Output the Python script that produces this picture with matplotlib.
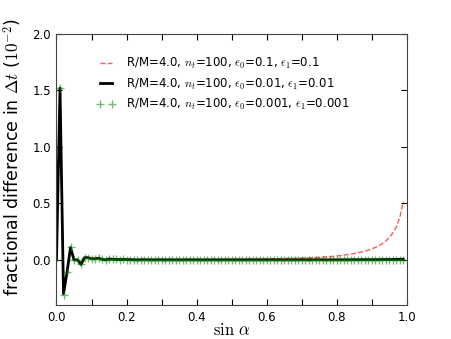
import numpy as np
import matplotlib
matplotlib.use("Agg")
import matplotlib.pyplot as plt

plt.rcParams['mathtext.fontset'] = 'cm'
plt.rcParams['xtick.direction'] = 'in'
plt.rcParams['ytick.direction'] = 'in'

# sin(alpha) sample positions
sin_a = np.arange(100) / 100.0

# eps0 = eps1 = 0.01
frac_01 = [0.0, 1.52, -0.30, -0.11, 0.11, 0.0, 0.0, -0.04, 0.02, 0.02,
           0.01, 0.01, 0.015, 0.005, 0.0, 0.008, 0.005, 0.004, 0.003, 0.004,
           0.003, 0.002, 0.001, 0.0, 0.001, 0.002, 0.001, 0.001, 0.0, 0.001,
           0.001, 0.0, 0.001, 0.001, 0.0, 0.001, 0.0, 0.001, 0.001, 0.0,
           0.001, 0.0, 0.0, 0.001, 0.0, 0.001, 0.0, 0.0, 0.001, 0.0,
           0.001, 0.0, 0.001, 0.0, 0.0, 0.001, 0.0, 0.001, 0.0, 0.001,
           0.0, 0.001, 0.001, 0.0, 0.001, 0.0, 0.001, 0.001, 0.0, 0.001,
           0.001, 0.001, 0.0, 0.001, 0.001, 0.001, 0.001, 0.0, 0.001, 0.001,
           0.001, 0.001, 0.001, 0.001, 0.001, 0.002, 0.001, 0.002, 0.002, 0.002,
           0.002, 0.002, 0.002, 0.003, 0.003, 0.003, 0.004, 0.004, 0.005, 0.006]

# eps0 = eps1 = 0.1
frac_1 = [0.0, 1.52, -0.30, -0.11, 0.11, 0.0, 0.0, -0.04, 0.02, 0.02,
          0.01, 0.01, 0.015, 0.005, 0.0, 0.008, 0.005, 0.004, 0.003, 0.004,
          0.003, 0.002, 0.001, 0.0, 0.001, 0.002, 0.001, 0.001, 0.001, 0.001,
          0.001, 0.001, 0.002, 0.002, 0.002, 0.002, 0.002, 0.003, 0.003, 0.003,
          0.003, 0.003, 0.003, 0.004, 0.004, 0.004, 0.004, 0.004, 0.005, 0.005,
          0.005, 0.005, 0.006, 0.006, 0.006, 0.007, 0.007, 0.007, 0.008, 0.008,
          0.009, 0.009, 0.010, 0.010, 0.011, 0.012, 0.012, 0.013, 0.014, 0.015,
          0.016, 0.017, 0.018, 0.020, 0.021, 0.023, 0.025, 0.027, 0.029, 0.032,
          0.035, 0.038, 0.042, 0.046, 0.051, 0.056, 0.062, 0.069, 0.077, 0.086,
          0.097, 0.110, 0.125, 0.144, 0.167, 0.197, 0.237, 0.292, 0.375, 0.515]

# eps0 = eps1 = 0.001
frac_001 = [0.0, 1.52, -0.31, -0.11, 0.11, 0.0, 0.0, -0.04, 0.02, 0.02,
            0.01, 0.01, 0.015, 0.005, 0.0, 0.008, 0.005, 0.004, 0.003, 0.004,
            0.003, 0.002, 0.001, 0.0, 0.001, 0.002, 0.001, 0.001, 0.0, 0.001,
            0.001, 0.0, 0.001, 0.001, 0.0, 0.001, 0.0, 0.001, 0.001, 0.0,
            0.001, 0.0, 0.0, 0.001, 0.0, 0.001, 0.0, 0.0, 0.001, 0.0,
            0.001, 0.0, 0.001, 0.0, 0.0, 0.001, 0.0, 0.001, 0.0, 0.001,
            0.0, 0.001, 0.001, 0.0, 0.001, 0.0, 0.001, 0.001, 0.0, 0.001,
            0.001, 0.001, 0.0, 0.001, 0.001, 0.001, 0.001, 0.0, 0.001, 0.001,
            0.001, 0.001, 0.001, 0.001, 0.001, 0.001, 0.001, 0.001, 0.001, 0.001,
            0.001, 0.001, 0.001, 0.001, 0.001, 0.001, 0.001, 0.001, 0.001, 0.001]

labels = [r'R/M=4.0, $n_t$=100, $\epsilon_0$=0.1, $\epsilon_1$=0.1',
          r'R/M=4.0, $n_t$=100, $\epsilon_0$=0.01, $\epsilon_1$=0.01',
          r'R/M=4.0, $n_t$=100, $\epsilon_0$=0.001, $\epsilon_1$=0.001']

fig = plt.figure(figsize=(4.52, 3.39), dpi=100)
ax = fig.add_axes([0.125, 0.1, 0.775, 0.8])

ax.plot(sin_a, frac_1, '--', color='red', alpha=0.65, lw=1.0, label=labels[0])
ax.plot(sin_a, frac_01, '-', color='black', lw=2.0, label=labels[1])
ax.plot(sin_a, frac_001, '+', color='green', alpha=0.55, ms=5.5, mew=1.0,
        label=labels[2])

ax.set_xlim(0, 1)
ax.set_ylim(-0.4, 2.0)
ax.set_xticks(np.arange(0, 1.01, 0.2))
ax.set_xticks(np.arange(0.1, 1.0, 0.2), minor=True)
ax.set_yticks([0.0, 0.5, 1.0, 1.5, 2.0])
ax.tick_params(which='both', top=True, right=True, length=4, width=0.8,
               labelsize=8.5, pad=4)
for s in ax.spines.values():
    s.set_color('#444444')

ax.set_xlabel(r'$\sin\,\alpha$', fontsize=12, labelpad=-2)
ax.set_ylabel(r'fractional difference in $\Delta t$ ($10^{-2}$)', fontsize=12.5)
ax.yaxis.set_label_coords(-0.092, 0.545)

leg = ax.legend(loc='upper left', bbox_to_anchor=(0.085, 0.958), frameon=False,
                numpoints=2, fontsize=8.5, handlelength=1.6, handletextpad=0.9,
                labelspacing=0.48)

fig.savefig('out.png', dpi=100)
